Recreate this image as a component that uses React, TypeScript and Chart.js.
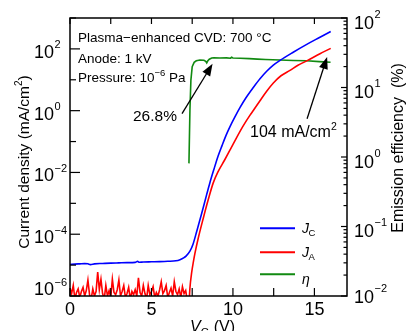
import React, { useEffect, useRef } from 'react';
import { Chart, registerables } from 'chart.js';

Chart.register(...registerables);

// ---- Data ----
// Cathode current density J_C (mA/cm^2) vs gate voltage V_G (V)
const jcV = [0, 0.3, 0.6, 0.9, 1.1, 1.25, 1.5, 2.0, 2.5, 3.0, 3.5, 4.0, 4.15, 4.25, 4.5, 5.0, 5.5, 6.0, 6.5, 6.75, 7.0, 7.12, 7.36, 7.55, 7.78, 8.08, 8.39, 8.59, 8.84, 9.08, 9.33, 9.57, 9.82, 10.13, 10.43, 10.8, 11.25, 11.66, 12.07, 12.46, 12.89, 13.7, 14.53, 15.34, 16.0];
const jcI = [1.05e-5, 1.08e-5, 1.1e-5, 1.12e-5, 1.1e-5, 1.04e-5, 1.1e-5, 1.13e-5, 1.16e-5, 1.18e-5, 1.2e-5, 1.23e-5, 1.32e-5, 1.24e-5, 1.26e-5, 1.28e-5, 1.3e-5, 1.33e-5, 1.38e-5, 1.5e-5, 1.75e-5, 1.95e-5, 2.83e-5, 4.75e-5, 1.25e-4, 4.66e-4, 1.95e-3, 4.75e-3, 1.3e-2, 3.28e-2, 7.4e-2, 0.156, 0.305, 0.64, 1.25, 2.62, 5.65, 10.8, 18.8, 29.4, 42.6, 78, 140, 238, 367];

// Anode current density J_A (mA/cm^2)
const jaV = [0, 0.1, 0.2, 0.3, 0.4, 0.5, 0.6, 0.7, 0.8, 0.9, 1.0, 1.1, 1.2, 1.3, 1.4, 1.5, 1.6, 1.7, 1.8, 1.9, 2.0, 2.1, 2.2, 2.3, 2.4, 2.5, 2.6, 2.7, 2.8, 2.9, 3.0, 3.1, 3.2, 3.3, 3.4, 3.5, 3.6, 3.7, 3.8, 3.9, 4.0, 4.1, 4.2, 4.3, 4.4, 4.5, 4.6, 4.7, 4.8, 4.9, 5.0, 5.1, 5.2, 5.3, 5.4, 5.5, 5.6, 5.7, 5.8, 5.9, 6.0, 6.1, 6.2, 6.3, 6.4, 6.5, 6.6, 6.7, 6.8, 6.9, 7.0, 7.1, 7.2, 7.3, 7.36, 7.47, 7.58, 7.67, 7.87, 8.18, 8.49, 8.79, 9.08, 9.49, 9.85, 10.21, 10.62, 11.05, 11.25, 11.66, 12.07, 12.48, 12.95, 13.5, 13.99, 14.53, 15.34, 16.0];
const jaI = [1.8e-6, 1.2e-6, 2.2e-6, 0.8e-6, 1.3e-6, 1.7e-6, 0.9e-6, 1.4e-6, 1.9e-6, 1.0e-6, 1.5e-6, 3.3e-6, 1.1e-6, 0.8e-6, 1.7e-6, 1.0e-6, 1.4e-6, 6.0e-6, 1.6e-6, 3.5e-6, 1.2e-6, 0.8e-6, 2.2e-6, 1.0e-6, 1.5e-6, 0.9e-6, 3.5e-6, 1.3e-6, 1.1e-6, 1.6e-6, 3.3e-6, 1.0e-6, 1.4e-6, 2.2e-6, 0.9e-6, 1.2e-6, 1.9e-6, 0.8e-6, 1.4e-6, 1.1e-6, 1.6e-6, 1.0e-6, 3.9e-6, 1.3e-6, 1.0e-6, 2.2e-6, 1.2e-6, 0.8e-6, 2.2e-6, 1.1e-6, 1.4e-6, 2.0e-6, 0.9e-6, 1.3e-6, 1.0e-6, 1.6e-6, 2.9e-6, 1.2e-6, 1.5e-6, 2.2e-6, 0.9e-6, 1.3e-6, 1.8e-6, 1.0e-6, 2.9e-6, 1.4e-6, 1.1e-6, 1.7e-6, 0.9e-6, 2.0e-6, 1.2e-6, 1.5e-6, 0.7e-6, 0.5e-6, 1.8e-6, 5.9e-6, 1.35e-5, 2.44e-5, 7.4e-5, 3.3e-4, 1.35e-3, 4.6e-3, 1.04e-2, 2.53e-2, 5.7e-2, 0.13, 0.316, 0.716, 1.01, 2.1, 4.26, 7.9, 13.5, 20.2, 29.4, 41, 70, 104];

// Emission efficiency eta (%)
const etaV = [7.3, 7.36, 7.42, 7.5, 7.62, 7.75, 7.98, 8.22, 8.33, 8.39, 8.45, 8.55, 8.7, 8.83, 9.2, 9.6, 9.85, 9.92, 10.0, 10.43, 11.0, 11.5, 12.0, 12.88, 13.7, 14.52, 15.3, 15.99];
const etaP = [0.81, 4.7, 12.8, 19.9, 23, 24.2, 24.9, 24.7, 23.8, 22.6, 24.0, 25.5, 26.5, 26.8, 26.6, 26.7, 26.4, 27.2, 26.6, 26.4, 26.0, 25.6, 25.3, 24.9, 24.5, 24.2, 23.6, 23.1];

// Onset voltage: below it the anode current is noise (drawn straight), above it a smooth curve
const jaOnsetV = 7.3;

// ---- Axes ----
const xTickValues = [0, 2.5, 5, 7.5, 10, 12.5, 15];
const xTickLabels = [0, 5, 10, 15];
const leftDecades = [-6, -5, -4, -3, -2, -1, 0, 1, 2, 3];
const leftLabelExps = [-6, -4, -2, 0, 2];
const rightDecades = [-2, -1, 0, 1, 2];

const FONT = '"Liberation Sans", Arial, Helvetica, sans-serif';
const BLUE = '#0000ff';
const RED = '#ff0000';
const GREEN = '#118a11';

const legendItems = [
  { main: 'J', sub: 'C', color: BLUE },
  { main: 'J', sub: 'A', color: RED },
  { main: 'η', sub: '', color: GREEN },
];

// arrows: [tailV, tailJ, tipV, tipJ] in data coords of x / left axis
const arrows = [
  [6.875, 0.8, 8.75, 32.8],
  [14.55, 0.55, 15.78, 55],
];

const pts = (xs: number[], ys: number[]) => xs.map((x, i) => ({ x, y: ys[i] }));

const decorPlugin = {
  id: 'decor',
  afterDraw(chart: any) {
    const { ctx, chartArea: a } = chart;
    const sx = chart.scales.x;
    const sy = chart.scales.y;
    const sy2 = chart.scales.y2;
    ctx.save();
    ctx.strokeStyle = '#000';
    ctx.fillStyle = '#000';
    const line = (x1: number, y1: number, x2: number, y2: number) => {
      ctx.beginPath();
      ctx.moveTo(x1, y1);
      ctx.lineTo(x2, y2);
      ctx.stroke();
    };

    // frame
    ctx.lineWidth = 1.5;
    ctx.strokeRect(a.left, a.top, a.right - a.left, a.bottom - a.top);

    // ticks
    ctx.lineWidth = 1.2;
    xTickValues.forEach((v) => {
      const px = sx.getPixelForValue(v);
      line(px, a.bottom, px, a.bottom - 8);
      line(px, a.top, px, a.top + 6);
    });
    leftDecades.forEach((e) => {
      const py = sy.getPixelForValue(Math.pow(10, e));
      const len = leftLabelExps.includes(e) ? 10 : 6;
      line(a.left, py, a.left + len, py);
    });
    rightDecades.forEach((e, i) => {
      const py = sy2.getPixelForValue(Math.pow(10, e));
      line(a.right, py, a.right - 6, py);
      if (i < rightDecades.length - 1) {
        for (let m = 2; m <= 9; m++) {
          const pm = sy2.getPixelForValue(m * Math.pow(10, e));
          line(a.right, pm, a.right - 3.5, pm);
        }
      }
    });

    // x tick labels
    ctx.textBaseline = 'alphabetic';
    ctx.textAlign = 'center';
    ctx.font = `18px ${FONT}`;
    xTickLabels.forEach((v) => ctx.fillText(String(v), sx.getPixelForValue(v), a.bottom + 19));

    // power-of-ten labels
    const pow10 = (x: number, base: number, exp: number, raise: number) => {
      ctx.textAlign = 'left';
      ctx.font = `18px ${FONT}`;
      ctx.fillText('10', x, base);
      const w = ctx.measureText('10').width;
      ctx.font = `11px ${FONT}`;
      ctx.fillText(String(exp).replace('-', '\u2212'), x + w + 0.5, base - raise);
    };
    leftLabelExps.forEach((e, i) => {
      const py = sy.getPixelForValue(Math.pow(10, e));
      const shift = i === 0 ? 10 : 0;
      pow10(34, py + 9 - shift, e, 9.5);
    });
    rightDecades.forEach((e, i) => {
      const py = sy2.getPixelForValue(Math.pow(10, e));
      const shift = i === 0 ? 3.5 : 0;
      pow10(354, py + 10.5 - shift, e, 10.8);
    });

    // axis titles
    const drawParts = (parts: { t: string; f: string; dy: number }[], x0: number, y0: number, center: boolean) => {
      let total = 0;
      parts.forEach((p) => { ctx.font = p.f; total += ctx.measureText(p.t).width; });
      let x = center ? x0 - total / 2 : x0;
      ctx.textAlign = 'left';
      parts.forEach((p) => {
        ctx.font = p.f;
        ctx.fillText(p.t, x, y0 + p.dy);
        x += ctx.measureText(p.t).width;
      });
    };

    ctx.save();
    ctx.translate(25, 162);
    ctx.rotate(-Math.PI / 2);
    ctx.textBaseline = 'middle';
    drawParts([
      { t: 'Current density (mA/cm', f: `15.5px ${FONT}`, dy: 0 },
      { t: '2', f: `10px ${FONT}`, dy: -6 },
      { t: ')', f: `15.5px ${FONT}`, dy: 0 },
    ], 0, 0, true);
    ctx.restore();

    ctx.save();
    ctx.translate(399, 148);
    ctx.rotate(-Math.PI / 2);
    ctx.textBaseline = 'middle';
    drawParts([{ t: 'Emission efficiency  (%)', f: `16px ${FONT}`, dy: 0 }], 0, 0, true);
    ctx.restore();

    ctx.textBaseline = 'alphabetic';
    drawParts([
      { t: 'V', f: `italic 16px ${FONT}`, dy: 0 },
      { t: 'G', f: `11px ${FONT}`, dy: 4 },
      { t: ' (V)', f: `16px ${FONT}`, dy: 0 },
    ], 190, 332, false);

    // annotation text
    ctx.font = `13.5px ${FONT}`;
    ctx.textAlign = 'left';
    ctx.fillText('Plasma\u2212enhanced CVD: 700 °C', 78, 41.7);
    ctx.fillText('Anode: 1 kV', 78, 62.5);
    drawParts([
      { t: 'Pressure: 10', f: `13.5px ${FONT}`, dy: 0 },
      { t: '\u22126', f: `9.5px ${FONT}`, dy: -5.5 },
      { t: ' Pa', f: `13.5px ${FONT}`, dy: 0 },
    ], 78, 81.5, false);

    drawParts([{ t: '26.8%', f: `15.5px ${FONT}`, dy: 0 }], 133, 120.5, false);
    drawParts([
      { t: '104 mA/cm', f: `16px ${FONT}`, dy: 0 },
      { t: '2', f: `10.5px ${FONT}`, dy: -7 },
    ], 250, 136.7, false);

    // arrows
    ctx.lineWidth = 1.3;
    arrows.forEach(([tv, tj, hv, hj]) => {
      const x1 = sx.getPixelForValue(tv);
      const y1 = sy.getPixelForValue(tj);
      const x2 = sx.getPixelForValue(hv);
      const y2 = sy.getPixelForValue(hj);
      const ang = Math.atan2(y2 - y1, x2 - x1);
      const L = 12;
      const W = 4.5;
      const c = Math.cos(ang);
      const s = Math.sin(ang);
      line(x1, y1, x2 - L * 0.8 * c, y2 - L * 0.8 * s);
      ctx.beginPath();
      ctx.moveTo(x2, y2);
      ctx.lineTo(x2 - L * c + W * s, y2 - L * s - W * c);
      ctx.lineTo(x2 - L * c - W * s, y2 - L * s + W * c);
      ctx.closePath();
      ctx.fill();
    });

    // legend
    legendItems.forEach((it, i) => {
      const ly = [228.3, 252.3, 274.3][i];
      ctx.strokeStyle = it.color;
      ctx.lineWidth = 2;
      line(260, ly, 295, ly);
      ctx.fillStyle = '#000';
      ctx.textAlign = 'left';
      ctx.font = `italic 14px ${FONT}`;
      const base = it.sub ? ly + 5 : ly + 9.5;
      ctx.fillText(it.main, 302, base);
      if (it.sub) {
        const w = ctx.measureText(it.main).width;
        ctx.font = `9.5px ${FONT}`;
        ctx.fillText(it.sub, 302 + w - 0.5, base + 2.7);
      }
    });

    ctx.restore();
  },
};

export default function App() {
  const ref = useRef<HTMLCanvasElement>(null);
  useEffect(() => {
    const jaAll = pts(jaV, jaI);
    const jaNoise = jaAll.filter((p) => p.x <= jaOnsetV);
    const jaRise = jaAll.filter((p) => p.x >= jaOnsetV);
    const common = { borderWidth: 1.6, pointRadius: 0 };
    const chart = new Chart(ref.current as HTMLCanvasElement, {
      type: 'line',
      data: {
        datasets: [
          { label: 'JC', data: pts(jcV, jcI), borderColor: BLUE, yAxisID: 'y', cubicInterpolationMode: 'monotone', ...common },
          { label: 'JA', data: jaNoise, borderColor: RED, yAxisID: 'y', tension: 0, ...common },
          { label: 'JA rise', data: jaRise, borderColor: RED, yAxisID: 'y', cubicInterpolationMode: 'monotone', ...common },
          { label: 'eta', data: pts(etaV, etaP), borderColor: GREEN, yAxisID: 'y2', tension: 0, ...common },
        ],
      },
      options: {
        animation: false,
        responsive: false,
        devicePixelRatio: 1,
        layout: { padding: { top: 18, left: 0, right: 0, bottom: 0 } },
        plugins: { legend: { display: false }, tooltip: { enabled: false } },
        scales: {
          x: {
            type: 'linear', min: 0, max: 17,
            grid: { display: false }, border: { display: false }, ticks: { display: false },
            afterFit: (s: any) => { s.height = 35; },
          },
          y: {
            type: 'logarithmic', position: 'left', min: 1e-6, max: 1e3,
            grid: { display: false }, border: { display: false }, ticks: { display: false },
            afterFit: (s: any) => { s.width = 70; },
          },
          y2: {
            type: 'logarithmic', position: 'right', min: 1e-2, max: 1e2,
            grid: { display: false }, border: { display: false }, ticks: { display: false },
            afterFit: (s: any) => { s.width = 61; },
          },
        },
      } as any,
      plugins: [decorPlugin],
    });
    return () => chart.destroy();
  }, []);
  return (
    <div style={{ position: 'absolute', left: 0, top: 0, width: 408, height: 331, background: '#fff' }}>
      <canvas ref={ref} width={408} height={331} style={{ display: 'block', width: 408, height: 331 }} />
    </div>
  );
}
